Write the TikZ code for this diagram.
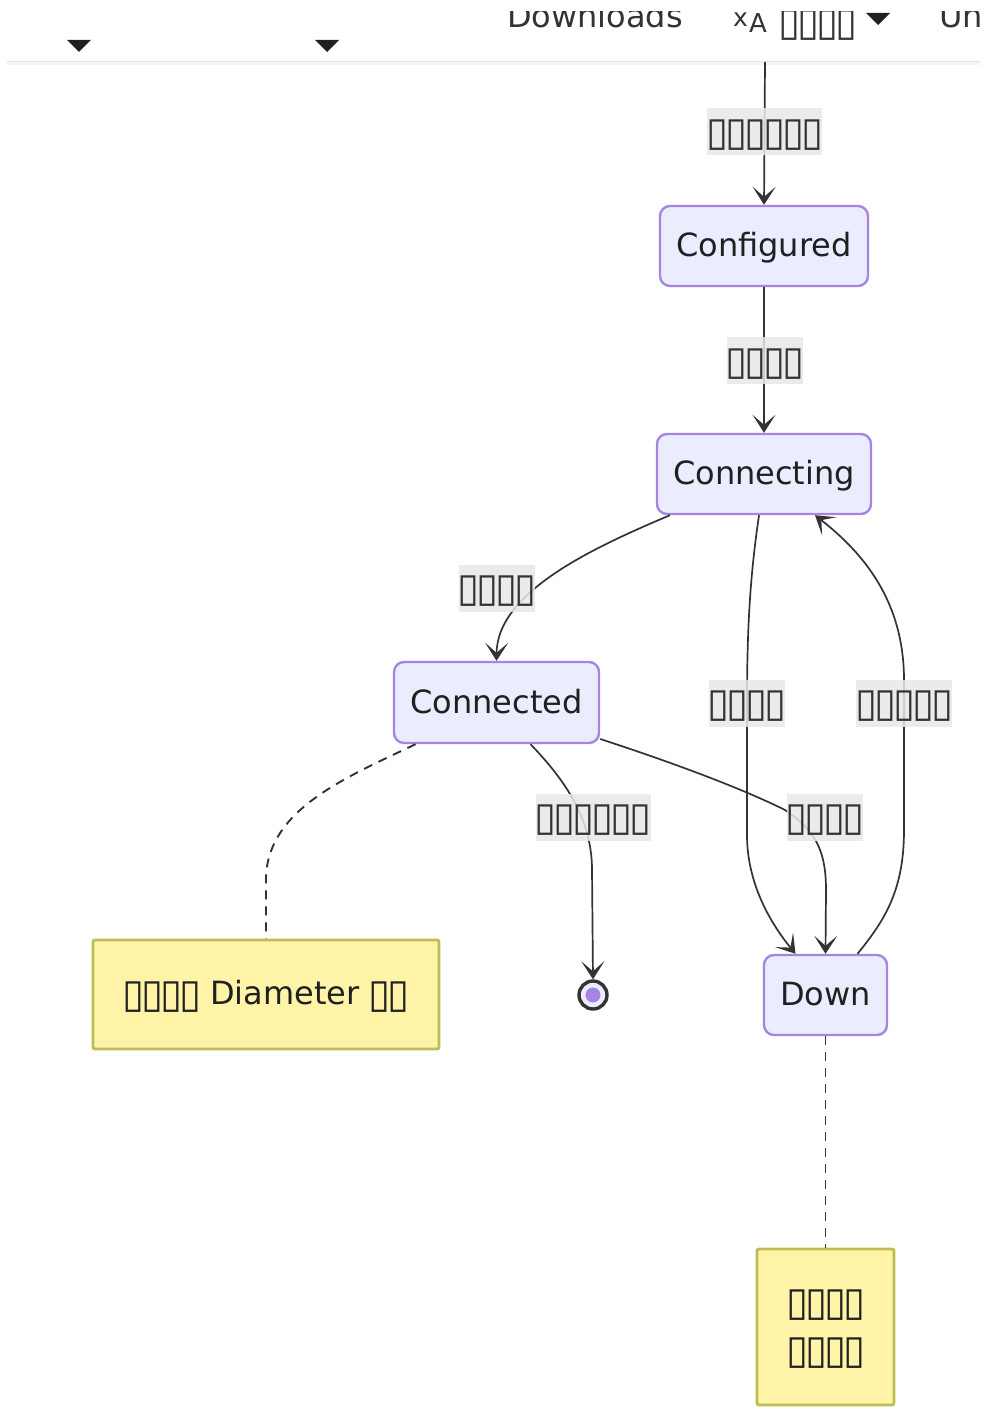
\documentclass[tikz,border=0pt]{standalone}
\usepackage{fontspec}
\setmainfont{DejaVu Sans}
\usetikzlibrary{arrows.meta}
\definecolor{edgec}{HTML}{333333}
\definecolor{statefill}{HTML}{ECECFF}
\definecolor{stateline}{HTML}{A685E2}
\definecolor{notefill}{HTML}{FFF3A8}
\definecolor{noteline}{HTML}{BDBD55}
\definecolor{labelfill}{HTML}{E8E8E8}
\definecolor{txt}{HTML}{1F2020}
\tikzset{
  x=1pt,y=-1pt,
  statebox/.style={draw=stateline,fill=statefill,line width=2.4pt,rounded corners=10pt,inner sep=0pt,text=txt,font=\fontsize{32}{36}\selectfont,text height=24pt,text depth=3pt},
  notebox/.style={draw=noteline,fill=notefill,line width=2.8pt,rounded corners=2pt,inner sep=0pt,text=txt,font=\fontsize{32}{48}\selectfont,align=center},
  edgelabel/.style={fill=labelfill,fill opacity=0.85,text opacity=1,text=edgec,inner sep=0pt,minimum height=47pt,font=\fontsize{32}{36}\selectfont,text height=24pt,text depth=3pt},
  trans/.style={draw=edgec,line width=1.7pt,-{Stealth[length=18pt,width=23pt,inset=10pt]}},
  link/.style={draw=edgec,line width=1.9pt,dash pattern=on 9pt off 7pt},
  hdrtext/.style={text=edgec,font=\fontsize{32}{36}\selectfont,anchor=base west,inner sep=0pt},
  tri/.style={fill=txt,draw=none},
}
\newcommand{\bx}[1]{\foreach \i in {1,...,#1}{\hbox to 19pt{\hss\smash{\raisebox{-3.1pt}{\scalebox{1.25}{\char"25AF}}}\hss}}}
\begin{document}
\begin{tikzpicture}
\useasboundingbox (0,0) rectangle (985,1407);
% header
\fill[black!4] (7,61) rectangle (980,65);
\draw[black!10,line width=1pt] (7,62) -- (980,62);
\fill[tri] (67,40) -- (91,40) -- (79,52) -- cycle;
\fill[tri] (315,40) -- (339,40) -- (327,52) -- cycle;
\fill[tri] (866,13) -- (890,13) -- (878,25) -- cycle;
\node[hdrtext] (dl) at (507,28) {Downloads};
\node[hdrtext,font=\fontsize{25}{25}\selectfont] (ix) at (733,27) {x};
\node[hdrtext,font=\fontsize{26}{26}\selectfont] (ia) at (749,33) {A};
\node[hdrtext] (lang) at (780,32) {\bx{4}};
\node[hdrtext] (un) at (939,28) {Un};
\fill[white] (0,0) rectangle (985,11);
\fill[white] (980,0) rectangle (985,62);
% nodes
\coordinate (top) at (765,62);
\node[statebox,minimum width=208pt,minimum height=80pt] (configured) at (764,246) {Configured};
\node[statebox,minimum width=214pt,minimum height=80pt] (connecting) at (764,474) {Connecting};
\node[statebox,minimum width=205pt,minimum height=81pt] (connected) at (496.5,702.5) {Connected};
\node[statebox,minimum width=123pt,minimum height=80pt] (down) at (825.5,995) {Down};
\node[notebox,minimum width=346pt,minimum height=109pt,text height=24pt,text depth=5pt] (note1) at (266,994.5) {\bx{4} Diameter \bx{2}};
\node[notebox,minimum width=137pt,minimum height=156pt] (note2) at (825.5,1327) {\bx{4}\rule{0pt}{24pt}\\\bx{4}\rule[-5pt]{0pt}{5pt}};
\node[circle,draw=edgec,fill=statefill,line width=3.4pt,minimum size=28pt,inner sep=0pt] (endst) at (593,995) {};
\node[circle,fill=stateline,draw=none,minimum size=15pt,inner sep=0pt] (enddot) at (593,995) {};
% connectors
\draw[trans] (top) -- (configured.north);
\draw[trans] (configured) -- (connecting);
\draw[trans] ([xshift=-94pt]connecting.south) .. controls (600,545) and (497,590) .. (connected.north);
\draw[trans] ([xshift=-5pt]connecting.south) .. controls (751,570) and (747,620) .. (747,703) -- (747,835) .. controls (747,885) and (772,925) .. ([xshift=-30pt]down.north);
\draw[trans] ([xshift=32pt]down.north) .. controls (885,920) and (904,890) .. (904,830) -- (904,680) .. controls (904,600) and (862,552) .. ([xshift=51pt]connecting.south);
\draw[trans] (connected.east |- 0,739) .. controls (680,765) and (745,790) .. (785,810) .. controls (815,830) and (826,850) .. (826,890) -- (down.north);
\draw[trans] ([xshift=34pt]connected.south) .. controls (560,775) and (592,815) .. (592,870) -- (endst.north);
\draw[link] ([xshift=-81pt]connected.south) .. controls (345,778) and (266,810) .. (266,880) -- (note1.north);
\draw[link] (down) -- (note2);
% labels
\node[edgelabel,minimum width=115pt] (l1) at (764.5,132) {\bx{6}};
\node[edgelabel,minimum width=76pt] (l2) at (764.5,360.5) {\bx{4}};
\node[edgelabel,minimum width=76pt] (l3) at (497,588) {\bx{4}};
\node[edgelabel,minimum width=76pt] (l4) at (747,703) {\bx{4}};
\node[edgelabel,minimum width=96pt] (l5) at (904,703) {\bx{5}};
\node[edgelabel,minimum width=76pt] (l6) at (825,817) {\bx{4}};
\node[edgelabel,minimum width=115pt] (l7) at (593,817) {\bx{6}};
\end{tikzpicture}
\end{document}
